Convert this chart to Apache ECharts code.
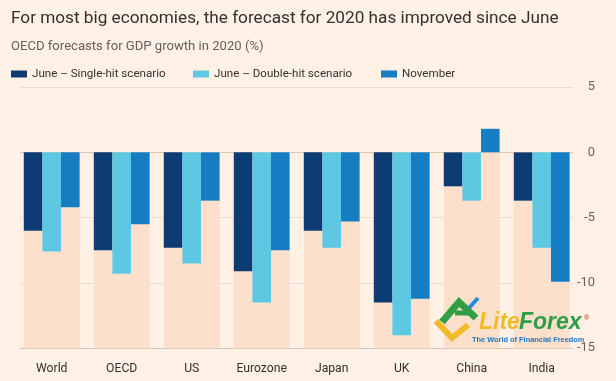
<!DOCTYPE html>
<html>
<head>
<meta charset="utf-8">
<script src="https://cdn.jsdelivr.net/npm/echarts@6/dist/echarts.min.js"></script>
<style>
html,body{margin:0;padding:0;background:#fff1e5;}
#chart{width:616px;height:381px;}
</style>
</head>
<body>
<div id="chart"></div>
<script>
var categories = ['World', 'OECD', 'US', 'Eurozone', 'Japan', 'UK', 'China', 'India'];
var juneSingle = [-6.0, -7.5, -7.3, -9.1, -6.0, -11.5, -2.6, -3.7];
var juneDouble = [-7.6, -9.3, -8.5, -11.5, -7.3, -14.0, -3.7, -7.3];
var november = [-4.2, -5.5, -3.7, -7.5, -5.3, -11.2, 1.8, -9.9];
var seriesNames = ['June \u2013 Single-hit scenario', 'June \u2013 Double-hit scenario', 'November'];
var yTicks = [-15, -10, -5, 0, 5];

var title = 'For most big economies, the forecast for 2020 has improved since June';
var subtitle = 'OECD forecasts for GDP growth in 2020 (%)';

var FONT = 'Roboto, "Noto Sans", sans-serif';
var colors = ['#0d3b74', '#5ec8e3', '#167dc3'];
var bandColor = '#fce0cc';
var yMin = yTicks[0], yMax = yTicks[yTicks.length - 1];
var bandValues = categories.map(function () { return yMin; });

var chart = echarts.init(document.getElementById('chart'));
var legendLefts = [6, 188, 376];
chart.setOption({
  backgroundColor: '#fff1e5',
  animation: false,
  title: [
    {text: title, left: 6, top: 5, textStyle: {fontFamily: FONT, fontSize: 17.2, fontWeight: 'normal', color: '#33302e'}},
    {text: subtitle, left: 6, top: 35, textStyle: {fontFamily: FONT, fontSize: 13.1, fontWeight: 'normal', color: '#66605c'}}
  ],
  legend: seriesNames.map(function (n, i) {
    return {
      data: [n], left: legendLefts[i], top: 63, icon: 'rect', itemWidth: 16, itemHeight: 7,
      selectedMode: false,
      textStyle: {fontFamily: FONT, fontSize: 11.6, color: '#33302e'}
    };
  }),
  grid: [
    {left: 16.7, right: 39.3, top: 87, bottom: 32.7},
    {left: 20, right: 43, top: 87, bottom: 32.7}
  ],
  xAxis: [
    {type: 'category', gridIndex: 0, data: categories,
      axisLine: {show: false},
      axisTick: {show: true, alignWithLabel: true, length: 10, lineStyle: {color: '#cdbfb3'}},
      axisLabel: {interval: 0, margin: 15, fontFamily: FONT, fontSize: 12.2, color: '#33302e'}},
    {type: 'category', gridIndex: 0, data: categories, show: false},
    {type: 'value', gridIndex: 1, min: 0, max: 1, show: false}
  ],
  yAxis: [
    {type: 'value', gridIndex: 0, min: yMin, max: yMax, show: false},
    {type: 'value', gridIndex: 1, min: yMin, max: yMax, interval: 5, position: 'right',
      axisLine: {show: false}, axisTick: {show: false},
      axisLabel: {align: 'right', margin: 22, fontFamily: FONT, fontSize: 12.8, color: '#66605c'},
      splitLine: {show: true, lineStyle: {color: ['#d8c5b6', '#eadbcf', '#eadbcf', '#d8c5b6', '#eadbcf'], width: 1}}}
  ],
  series: [
    {type: 'bar', xAxisIndex: 1, yAxisIndex: 0, data: bandValues, barWidth: 55.8, z: 1,
      itemStyle: {color: bandColor}, silent: true, legendHoverLink: false},
    {name: seriesNames[0], type: 'bar', xAxisIndex: 0, yAxisIndex: 0, data: juneSingle, barWidth: 18.6, barGap: '0%', z: 3, itemStyle: {color: colors[0]}},
    {name: seriesNames[1], type: 'bar', xAxisIndex: 0, yAxisIndex: 0, data: juneDouble, barWidth: 18.6, barGap: '0%', z: 3, itemStyle: {color: colors[1]}},
    {name: seriesNames[2], type: 'bar', xAxisIndex: 0, yAxisIndex: 0, data: november, barWidth: 18.6, barGap: '0%', z: 3, itemStyle: {color: colors[2]}}
  ],
  graphic: [
    {type: 'polyline', z: 100, shape: {points: [[436, 321], [452, 338], [468, 325]]}, style: {stroke: '#f2b92b', lineWidth: 6, fill: null}},
    {type: 'polyline', z: 100, shape: {points: [[442, 322], [459, 302], [476, 318]]}, style: {stroke: '#2f9e44', lineWidth: 7, fill: null}},
    {type: 'polyline', z: 100, shape: {points: [[455, 313], [471, 313]]}, style: {stroke: '#2f9e44', lineWidth: 5, fill: null}},
    {type: 'polyline', z: 100, shape: {points: [[469, 308], [478, 298]]}, style: {stroke: '#2a8ad8', lineWidth: 4, fill: null}},
    {type: 'text', z: 100, left: 479, top: 311, style: {text: 'Lite', font: 'italic bold 23px "Liberation Sans", sans-serif', fill: '#f2b92b'}},
    {type: 'text', z: 100, left: 519, top: 311, style: {text: 'Forex', font: 'italic bold 23px "Liberation Sans", sans-serif', fill: '#2f9e44'}},
    {type: 'text', z: 100, left: 584, top: 315, style: {text: '\u00ae', font: 'bold 7px "Liberation Sans", sans-serif', fill: '#e0473a'}},
    {type: 'text', z: 100, left: 472, top: 336, style: {text: 'The World of Financial Freedom', font: 'bold 7.4px "Liberation Sans", sans-serif', fill: '#1f74c4'}}
  ]
});
</script>
</body>
</html>
